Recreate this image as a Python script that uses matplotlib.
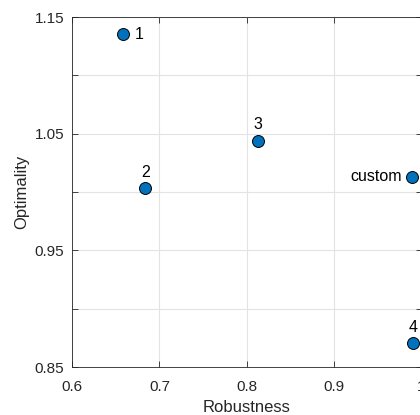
import matplotlib
matplotlib.use("Agg")
import matplotlib.pyplot as plt
import numpy as np

labels = ["1", "2", "3", "custom", "4"]
robustness = [0.6588, 0.684, 0.8127, 0.9895, 0.9906]
optimality = [1.1352, 1.0032, 1.044, 1.013, 0.8704]
label_pos = ["right", "top", "top", "left", "top"]

xticks = [0.6, 0.7, 0.8, 0.9, 1.0]
xticklabels = ["0.6", "0.7", "0.8", "0.9", "1"]
yticks = [0.85, 0.90, 0.95, 1.00, 1.05, 1.10, 1.15]
yticklabels = ["0.85", "", "0.95", "", "1.05", "", "1.15"]

plt.rcParams['font.family'] = ['Liberation Sans', 'DejaVu Sans']

fig = plt.figure(figsize=(4.2, 4.15), dpi=100)
W, H = 420, 415
left, right, top, bottom = 72, 421.5, 17, 367
ax = fig.add_axes([left / W, 1 - bottom / H, (right - left) / W, (bottom - top) / H])

ax.scatter(robustness, optimality, s=8.6**2, c="#0072BD", edgecolors="black",
           linewidths=0.7, zorder=3, clip_on=False)

for x, y, t, p in zip(robustness, optimality, labels, label_pos):
    if p == "right":
        ax.annotate(t, (x, y), xytext=(8, 0), textcoords="offset points",
                    ha="left", va="center", fontsize=11.5, color="black")
    elif p == "left":
        ax.annotate(t, (x, y), xytext=(-7.5, 0), textcoords="offset points",
                    ha="right", va="center", fontsize=11.5, color="black")
    else:
        ax.annotate(t, (x, y), xytext=(0, 6), textcoords="offset points",
                    ha="center", va="bottom", fontsize=11.5, color="black")

ax.set_xlim(0.6, 1.0)
ax.set_ylim(0.85, 1.15)
ax.set_xticks(xticks)
ax.set_xticklabels(xticklabels)
ax.set_yticks(yticks)
ax.set_yticklabels(yticklabels)
ax.grid(True, color="#e3e3e3", linewidth=0.8, zorder=0)
ax.set_axisbelow(True)
ax.tick_params(direction="in", length=4, width=0.6, top=True, right=True,
               labelsize=11, colors="#262626")
ax.tick_params(axis="x", pad=9)
ax.tick_params(axis="y", pad=5.5)
for s in ax.spines.values():
    s.set_color("#262626")
    s.set_linewidth(0.6)

ax.set_xlabel("Robustness", fontsize=12, color="#262626", labelpad=4.5)
ax.set_ylabel("Optimality", fontsize=12, color="#262626", labelpad=4)

fig.savefig("out.png", dpi=100)
